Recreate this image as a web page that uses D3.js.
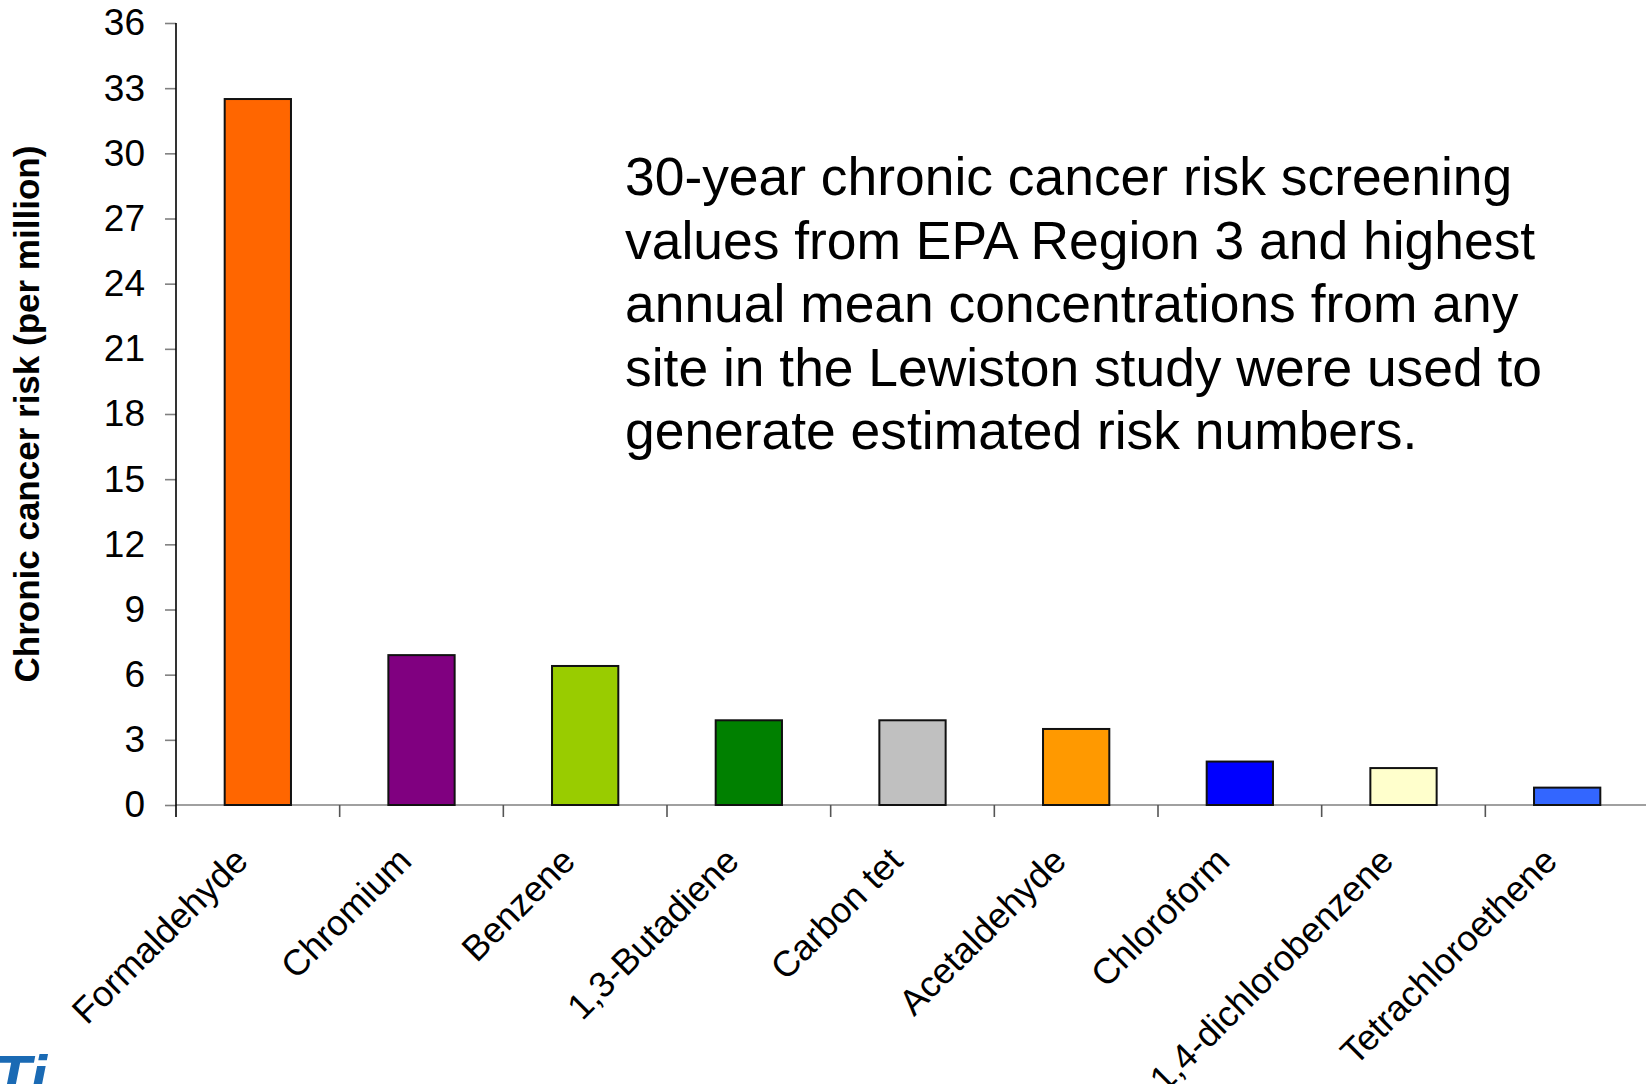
<!DOCTYPE html>
<html>
<head>
<meta charset="utf-8">
<script src="https://cdn.jsdelivr.net/npm/d3@7/dist/d3.min.js"></script>
<style>
  html, body { margin: 0; padding: 0; background: #ffffff; }
  svg { display: block; font-family: "Liberation Sans", Arial, sans-serif; }
</style>
</head>
<body>
<svg id="chart" width="1646" height="1084"></svg>
<script>
// Pollutants and their estimated chronic cancer risk (per million)
const pollutants = ["Formaldehyde", "Chromium", "Benzene", "1,3-Butadiene", "Carbon tet",
                    "Acetaldehyde", "Chloroform", "1,4-dichlorobenzene", "Tetrachloroethene"];
const riskValues = [32.5, 6.9, 6.4, 3.9, 3.9, 3.5, 2.0, 1.7, 0.8];
const barColors = ["#FF6600", "#800080", "#99CC00", "#008000", "#C0C0C0",
                   "#FF9900", "#0000FF", "#FFFFCC", "#3366FF"];
const yTicks = [0, 3, 6, 9, 12, 15, 18, 21, 24, 27, 30, 33, 36];
const yTitle = "Chronic cancer risk (per million)";
const noteLines = [
  "30-year chronic cancer risk screening",
  "values from EPA Region 3 and highest",
  "annual mean concentrations from any",
  "site in the Lewiston study were used to",
  "generate estimated risk numbers."
];

const svg = d3.select("#chart");
const plotLeft = 176, plotRight = 1649, plotTop = 23, plotBottom = 805;

const x = d3.scaleBand().domain(pollutants).range([plotLeft, plotRight]).padding(0);
const y = d3.scaleLinear().domain([0, 36]).range([plotBottom, plotTop]);
const barW = x.bandwidth() * 0.405;

// y axis
const yAxis = svg.append("g")
  .attr("transform", `translate(${plotLeft},0)`)
  .call(d3.axisLeft(y).tickValues(yTicks).tickSize(11).tickPadding(20).tickSizeOuter(0));
yAxis.select(".domain").remove();
yAxis.selectAll(".tick line").attr("stroke", "#808080").attr("stroke-width", 1.6);
yAxis.selectAll(".tick text")
  .attr("font-size", 37).attr("fill", "#000")
  .attr("font-family", "'Liberation Sans', Arial, sans-serif");

// x axis baseline and category boundary ticks
svg.append("line")
  .attr("x1", plotLeft).attr("x2", plotRight)
  .attr("y1", y(0)).attr("y2", y(0))
  .attr("stroke", "#808080").attr("stroke-width", 1.6);
svg.append("g").selectAll("line")
  .data(d3.range(1, pollutants.length + 1))
  .join("line")
  .attr("x1", i => plotLeft + i * x.step()).attr("x2", i => plotLeft + i * x.step())
  .attr("y1", y(0)).attr("y2", y(0) + 12)
  .attr("stroke", "#555").attr("stroke-width", 1.6);

// vertical axis line
svg.append("line")
  .attr("x1", plotLeft).attr("x2", plotLeft)
  .attr("y1", y(36)).attr("y2", y(0) + 12)
  .attr("stroke", "#000").attr("stroke-width", 1.6);

// bars
svg.append("g").selectAll("rect")
  .data(pollutants)
  .join("rect")
  .attr("x", d => x(d) + (x.bandwidth() - barW) / 2)
  .attr("y", (d, i) => y(riskValues[i]))
  .attr("width", barW)
  .attr("height", (d, i) => y(0) - y(riskValues[i]))
  .attr("fill", (d, i) => barColors[i])
  .attr("stroke", "#111").attr("stroke-width", 2);

// rotated category labels
svg.append("g").selectAll("text")
  .data(pollutants)
  .join("text")
  .attr("transform", d => `translate(${x(d) + x.bandwidth() / 2 - 8},${y(0) + 58}) rotate(-45)`)
  .attr("text-anchor", "end")
  .attr("font-size", 36)
  .attr("fill", "#000")
  .text(d => d);

// y axis title
svg.append("text")
  .attr("transform", `translate(39,${(138 + 651) / 2 * 1.0497}) rotate(-90)`)
  .attr("text-anchor", "middle")
  .attr("font-size", 35)
  .attr("font-weight", "bold")
  .attr("fill", "#000")
  .text(yTitle);

// explanatory note
svg.append("g").selectAll("text")
  .data(noteLines)
  .join("text")
  .attr("x", 625)
  .attr("y", (d, i) => 195 + i * 63.5)
  .attr("font-size", 53.4)
  .attr("fill", "#000")
  .text(d => d);

// corner logo mark
svg.append("text")
  .attr("x", -7).attr("y", 1098)
  .attr("font-size", 62)
  .attr("font-weight", "bold")
  .attr("font-style", "italic")
  .attr("fill", "#1a6ab4")
  .text("Ti");
</script>
</body>
</html>
